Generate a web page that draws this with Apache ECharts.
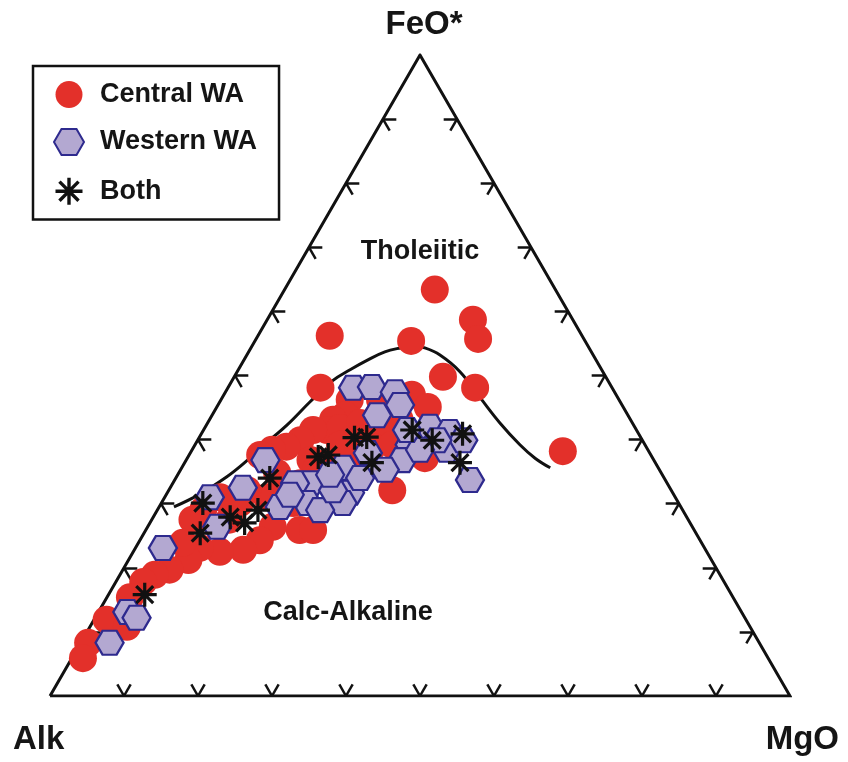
<!DOCTYPE html>
<html>
<head>
<meta charset="utf-8">
<script src="https://cdn.jsdelivr.net/npm/echarts@6/dist/echarts.min.js"></script>
<style>
  html, body { margin: 0; padding: 0; background: #ffffff; }
  #chart { width: 848px; height: 762px; }
</style>
</head>
<body>
<div id="chart"></div>
<script>
// AFM compositions as [Alk, FeO*, MgO] (normalised to 100)
const centralWA = [
  [16.3, 63.4, 20.3], [13.5, 58.7, 27.8], [14.3, 55.7, 30.0], [34.1, 56.2, 9.7],
  [23.5, 55.4, 21.1], [22.0, 49.8, 28.2], [39.4, 48.1, 12.5], [18.5, 48.1, 33.4],
  [11.6, 38.2, 50.2], [37.7, 32.1, 30.2], [30.8, 37.1, 32.1], [27.6, 47.0, 25.4],
  [26.4, 45.1, 28.5], [36.4, 46.2, 17.4], [38.2, 43.8, 18.0], [40.2, 43.1, 16.7],
  [41.8, 41.5, 16.7], [39.9, 41.8, 18.3], [36.8, 42.6, 20.6], [34.1, 43.5, 22.4],
  [33.7, 41.5, 24.8], [36.9, 38.9, 24.2], [34.1, 39.2, 26.7], [31.2, 43.1, 25.7],
  [43.7, 41.5, 14.8], [46.2, 39.9, 13.9], [48.6, 38.9, 12.5], [50.8, 38.4, 10.8],
  [52.8, 37.6, 9.6], [47.4, 34.2, 18.4], [49.6, 33.2, 17.2], [51.9, 32.1, 16.0],
  [44.4, 36.4, 19.2], [51.9, 34.8, 13.3], [55.2, 31.0, 13.8], [57.3, 32.1, 10.6],
  [59.3, 30.1, 10.6], [61.5, 31.0, 7.5], [64.8, 29.0, 6.2], [67.0, 27.5, 5.5],
  [62.0, 27.5, 10.5], [53.3, 25.9, 20.8], [51.5, 25.9, 22.6], [52.1, 30.1, 17.8],
  [56.7, 26.4, 16.9], [59.5, 24.3, 16.2], [62.5, 22.8, 14.7], [65.8, 22.5, 11.7],
  [68.2, 23.1, 8.7], [70.7, 21.2, 8.1], [74.0, 19.7, 6.3], [76.4, 18.9, 4.7],
  [78.5, 17.8, 3.7], [81.5, 15.4, 3.1], [86.4, 11.9, 1.7], [84.2, 10.8, 5.0],
  [90.7, 8.3, 1.0], [92.6, 5.9, 1.5], [38.9, 38.4, 22.7], [41.4, 36.0, 22.6],
  [41.2, 39.2, 19.6], [46.4, 36.8, 16.8], [60.5, 29.5, 10.0], [70.1, 23.9, 6.0],
  [32.3, 46.2, 21.5], [46.1, 35.7, 18.2]
];

const westernWA = [
  [35.0, 48.1, 16.9], [32.4, 48.2, 19.4], [29.7, 47.4, 22.9], [30.0, 45.4, 24.6],
  [33.9, 43.8, 22.3], [27.7, 42.0, 30.3], [25.4, 41.2, 33.4], [27.2, 38.4, 34.4],
  [31.8, 39.2, 29.0], [34.0, 36.8, 29.2], [38.1, 37.9, 24.0], [42.6, 35.6, 21.8],
  [26.4, 33.7, 39.9], [24.2, 39.9, 35.9], [27.7, 39.9, 32.4], [48.2, 33.2, 18.6],
  [43.6, 31.7, 24.7], [52.5, 36.8, 10.7], [57.7, 32.5, 9.8], [50.3, 33.2, 16.5],
  [54.2, 29.5, 16.3], [50.2, 30.1, 19.7], [45.4, 30.1, 24.5], [49.0, 29.0, 22.0],
  [64.2, 26.4, 9.4], [62.9, 31.0, 6.1], [73.2, 23.1, 3.7], [83.0, 13.1, 3.9],
  [82.2, 12.2, 5.6], [87.8, 8.3, 3.9], [45.7, 32.1, 22.2], [37.1, 35.3, 27.6],
  [30.8, 38.4, 30.8], [44.9, 34.5, 20.6], [41.1, 34.0, 24.9], [31.0, 41.5, 27.5],
  [51.9, 31.4, 16.7]
];

const bothRegions = [
  [79.3, 15.8, 4.9], [64.3, 30.1, 5.6], [67.0, 25.4, 7.6], [61.7, 27.9, 10.4],
  [60.2, 27.0, 12.8], [57.4, 29.0, 13.6], [53.3, 34.0, 12.7], [45.1, 37.3, 17.6],
  [43.6, 37.6, 18.8], [38.7, 40.3, 21.0], [37.0, 40.4, 22.6], [38.3, 36.4, 25.3],
  [30.3, 41.5, 28.2], [28.4, 39.9, 31.7], [23.8, 40.9, 35.3], [26.4, 36.4, 37.2]
];

// Tholeiitic / calc-alkaline dividing curve
const boundaryCurve = [
  [68.5, 29.5, 2.0], [64.0, 31.5, 4.5], [59.0, 34.2, 6.8], [55.5, 36.4, 8.1],
  [51.9, 38.9, 9.2], [46.8, 42.3, 10.9], [41.9, 45.9, 12.2], [37.2, 49.2, 13.6],
  [34.0, 50.9, 15.1], [30.9, 52.4, 16.7], [27.9, 53.7, 18.4], [25.5, 54.3, 20.2],
  [23.6, 54.6, 21.8], [22.2, 54.3, 23.5], [20.7, 53.2, 26.1], [19.3, 50.6, 30.1],
  [18.6, 46.5, 34.9], [17.9, 42.6, 39.5], [16.9, 39.2, 43.9], [15.9, 37.1, 47.0],
  [14.6, 35.6, 49.8]
];

const tickValues = [10, 20, 30, 40, 50, 60, 70, 80, 90];
const seriesNames = ['Central WA', 'Western WA', 'Both'];
const apexLabels = ['Alk', 'FeO*', 'MgO'];
const fieldLabels = ['Tholeiitic', 'Calc-Alkaline'];

const FONT = '"Liberation Sans", Arial, Helvetica, sans-serif';
const H = Math.sqrt(3) / 2;

// ternary [Alk, FeO, MgO] -> plane coordinates (Alk at origin, MgO at x=100, FeO on top)
function toXY(p) {
  const s = p[0] + p[1] + p[2];
  const f = p[1] / s * 100, m = p[2] / s * 100;
  return [m + f / 2, f * H];
}

const HEX = 'path://M0,8.66 L5,0 L15,0 L20,8.66 L15,17.32 L5,17.32 Z';
const STAR = 'path://M10,0 L10,20 M0,10 L20,10 M2.93,2.93 L17.07,17.07 M17.07,2.93 L2.93,17.07';

// short double-armed ticks pointing inward along the two other grid directions
const TL = 1.8;
function arm(p, deg) {
  const r = deg * Math.PI / 180;
  return { coords: [p, [p[0] + TL * Math.cos(r), p[1] + TL * Math.sin(r)]] };
}
const tickSegs = [];
tickValues.forEach(t => {
  const b = toXY([100 - t, 0, t]);
  tickSegs.push(arm(b, 60), arm(b, 120));
  const l = toXY([100 - t, t, 0]);
  tickSegs.push(arm(l, 0), arm(l, 300));
  const r = toXY([0, t, 100 - t]);
  tickSegs.push(arm(r, 180), arm(r, 240));
});

const outline = [[100, 0, 0], [0, 0, 100], [0, 100, 0], [100, 0, 0]].map(toXY);

const chart = echarts.init(document.getElementById('chart'));
chart.setOption({
  animation: false,
  backgroundColor: '#ffffff',
  grid: { left: 50, top: 55, width: 740, height: 641 },
  xAxis: { type: 'value', min: 0, max: 100, show: false },
  yAxis: { type: 'value', min: 0, max: 100 * H, show: false },
  legend: {
    orient: 'vertical', left: 33, top: 66,
    itemWidth: 30, itemHeight: 27, itemGap: 20,
    padding: [15, 22, 13, 20],
    borderColor: '#111', borderWidth: 2.5,
    selectedMode: false,
    textStyle: { fontFamily: FONT, fontSize: 27, fontWeight: 'bold', color: '#151515', padding: [0, 0, 0, 11] },
    data: [
      { name: seriesNames[0], icon: 'circle' },
      { name: seriesNames[1], icon: HEX },
      { name: seriesNames[2], icon: STAR, itemStyle: { color: '#111', borderColor: '#111', borderWidth: 3.4 } }
    ]
  },
  graphic: [
    { type: 'text', left: 'center', top: 8, style: { text: apexLabels[1], font: 'bold 33px ' + FONT, fill: '#151515' } },
    { type: 'text', left: 13, top: 723, style: { text: apexLabels[0], font: 'bold 33px ' + FONT, fill: '#151515' } },
    { type: 'text', right: 9, top: 723, style: { text: apexLabels[2], font: 'bold 33px ' + FONT, fill: '#151515' } },
    { type: 'text', x: 420, y: 252, style: { text: fieldLabels[0], font: 'bold 27px ' + FONT, fill: '#151515', align: 'center', verticalAlign: 'middle' } },
    { type: 'text', x: 348, y: 613, style: { text: fieldLabels[1], font: 'bold 27px ' + FONT, fill: '#151515', align: 'center', verticalAlign: 'middle' } }
  ],
  series: [
    {
      type: 'line', data: outline, symbol: 'none', silent: true,
      lineStyle: { color: '#111', width: 3, join: 'miter' }, z: 1
    },
    {
      type: 'lines', coordinateSystem: 'cartesian2d', data: tickSegs, silent: true,
      lineStyle: { color: '#111', width: 2.5, opacity: 1 }, z: 1
    },
    {
      type: 'line', data: boundaryCurve.map(toXY), symbol: 'none', smooth: 0.4, silent: true,
      lineStyle: { color: '#111', width: 3 }, z: 1
    },
    {
      name: seriesNames[0], type: 'scatter', data: centralWA.map(toXY), clip: false,
      symbol: 'circle', symbolSize: 28,
      itemStyle: { color: '#e3302a', opacity: 1 }, z: 2
    },
    {
      name: seriesNames[1], type: 'scatter', data: westernWA.map(toXY), clip: false,
      symbol: HEX, symbolSize: [28, 24],
      itemStyle: { color: '#b3a8d1', borderColor: '#2e2a8e', borderWidth: 2.2, opacity: 1 }, z: 3
    },
    {
      name: seriesNames[2], type: 'scatter', data: bothRegions.map(toXY), clip: false,
      symbol: STAR, symbolSize: 24,
      itemStyle: { color: '#111', borderColor: '#111', borderWidth: 3.2, opacity: 1 }, z: 4
    }
  ]
});
</script>
</body>
</html>
